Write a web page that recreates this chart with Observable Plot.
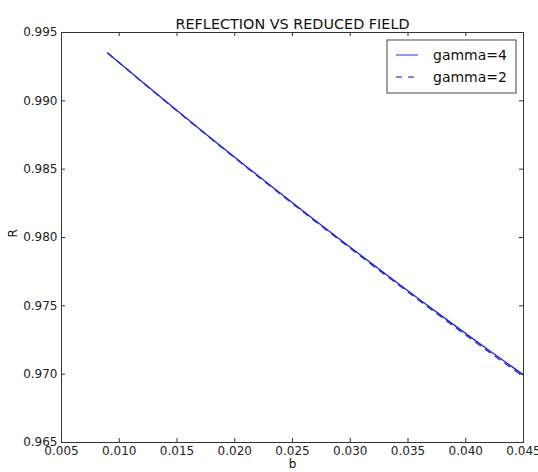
<!DOCTYPE html>
<html>
<head>
<meta charset="utf-8">
<script src="https://cdn.jsdelivr.net/npm/d3@7"></script>
<script src="https://cdn.jsdelivr.net/npm/@observablehq/plot@0.6"></script>
<style>
  html, body { margin: 0; padding: 0; background: #fff; }
  #chart { width: 538px; height: 472px; }
  svg { font-family: "DejaVu Sans", sans-serif; }
</style>
</head>
<body>
<div id="chart"></div>
<script>
// ---- data ----
const title = "REFLECTION VS REDUCED FIELD";
const xLabel = "b";
const yLabel = "R";
const seriesNames = ["gamma=4", "gamma=2"];
const bValues = [0.009, 0.012, 0.015, 0.018, 0.021, 0.024, 0.027, 0.030, 0.033, 0.036, 0.039, 0.042, 0.045];
const rGamma4 = [0.99350, 0.99138, 0.98929, 0.98723, 0.98520, 0.98320, 0.98123, 0.97929, 0.97737, 0.97547, 0.97359, 0.97175, 0.96995];
const rGamma2 = [0.99349, 0.99136, 0.98926, 0.98719, 0.98515, 0.98314, 0.98116, 0.97921, 0.97728, 0.97537, 0.97348, 0.97163, 0.96982];
const xTicks = [0.005, 0.010, 0.015, 0.020, 0.025, 0.030, 0.035, 0.040, 0.045];
const yTicks = [0.965, 0.970, 0.975, 0.980, 0.985, 0.990, 0.995];

// ---- build table ----
const rows = [
  ...bValues.map((b, i) => ({b, R: rGamma4[i], series: seriesNames[0]})),
  ...bValues.map((b, i) => ({b, R: rGamma2[i], series: seriesNames[1]}))
];

const W = 538, H = 472;
const mL = 61, mR = 15, mT = 32, mB = 30;
const plotH = H - mT - mB;
const plotW = W - mL - mR;
const lineColor = "#2323d6";
const fmt = d3.format(".3f");
const tickLen = 4;

const chart = Plot.plot({
  width: W,
  height: H,
  marginLeft: mL,
  marginRight: mR,
  marginTop: mT,
  marginBottom: mB,
  style: {fontFamily: "DejaVu Sans, sans-serif", fontSize: "12px", color: "#222", background: "#fff"},
  x: {domain: [0.005, 0.045]},
  y: {domain: [0.965, 0.995]},
  marks: [
    // data lines
    Plot.line(rows.filter(d => d.series === seriesNames[0]), {x: "b", y: "R", stroke: lineColor, strokeWidth: 1.3}),
    Plot.line(rows.filter(d => d.series === seriesNames[1]), {x: "b", y: "R", stroke: lineColor, strokeWidth: 1.3, strokeDasharray: "6,6"}),
    // inward ticks on all four sides
    Plot.tickX(xTicks, {x: d => d, insetTop: plotH - tickLen, stroke: "#333"}),
    Plot.tickX(xTicks, {x: d => d, insetBottom: plotH - tickLen, stroke: "#333"}),
    Plot.tickY(yTicks, {y: d => d, insetRight: plotW - tickLen, stroke: "#333"}),
    Plot.tickY(yTicks, {y: d => d, insetLeft: plotW - tickLen, stroke: "#333"}),
    // tick labels
    Plot.axisX(xTicks, {tickSize: 0, tickPadding: 4, tickFormat: fmt, label: null, fontSize: 12}),
    Plot.axisY(yTicks, {tickSize: 0, tickPadding: 4, tickFormat: fmt, label: null, fontSize: 12}),
    Plot.frame({stroke: "#333", strokeWidth: 1}),
    // title and axis labels
    Plot.text([title], {frameAnchor: "top", dy: -14, fontSize: 14.4, fill: "#111"}),
    Plot.text([xLabel], {frameAnchor: "bottom", dy: 25, fontSize: 12, fill: "#111"}),
    Plot.text([yLabel], {frameAnchor: "left", dx: -48, rotate: -90, fontSize: 12, fill: "#111"})
  ]
});

// ---- legend (upper right, inside the frame) ----
const svg = d3.select(chart);
const lg = svg.append("g").attr("transform", `translate(${W - mR - 136},${mT + 8})`);
lg.append("rect").attr("x", 0).attr("y", 0).attr("width", 129).attr("height", 53)
  .attr("fill", "#fff").attr("stroke", "#444").attr("stroke-width", 1);
seriesNames.forEach((name, i) => {
  const y = 15 + i * 22;
  lg.append("line").attr("x1", 9).attr("x2", 31).attr("y1", y).attr("y2", y)
    .attr("stroke", "#5c5ce0").attr("stroke-width", 1.3)
    .attr("stroke-dasharray", i === 1 ? "6,6" : null);
  lg.append("text").attr("x", 46).attr("y", y).attr("dy", "0.35em")
    .attr("text-anchor", "start")
    .attr("font-size", 14).attr("fill", "#111").text(name);
});

document.getElementById("chart").appendChild(chart);
</script>
</body>
</html>
